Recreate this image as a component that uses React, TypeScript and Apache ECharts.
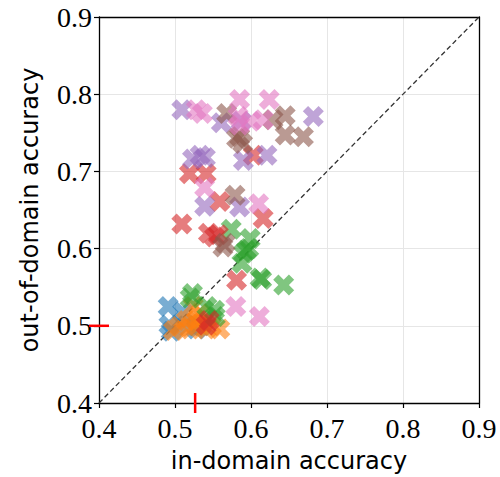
import React, { useEffect, useRef } from "react";
import * as echarts from "echarts";

const tickValues = [0.4, 0.5, 0.6, 0.7, 0.8, 0.9];
const xLabel = "in-domain accuracy";
const yLabel = "out-of-domain accuracy";

const seriesNames = ["blue", "orange", "green", "red", "purple", "brown", "pink"];
const seriesColors = ["#1f77b4", "#ff7f0e", "#2ca02c", "#d62728", "#9467bd", "#8c564b", "#e377c2"];

const blue = [[0.491,0.525],[0.510,0.518],[0.492,0.501],[0.495,0.493],[0.528,0.496],[0.515,0.500],[0.535,0.500]];
const orange = [[0.524,0.525],[0.533,0.516],[0.515,0.507],[0.528,0.507],[0.506,0.499],[0.520,0.496],[0.541,0.496],[0.559,0.496],[0.537,0.505],[0.498,0.494],[0.528,0.500],[0.548,0.500]];
const green = [[0.574,0.625],[0.599,0.613],[0.590,0.594],[0.594,0.598],[0.588,0.581],[0.614,0.560],[0.612,0.562],[0.643,0.553],[0.523,0.542],[0.520,0.536],[0.542,0.525],[0.552,0.520],[0.553,0.512],[0.597,0.600]];
const red = [[0.519,0.697],[0.541,0.697],[0.559,0.661],[0.509,0.632],[0.616,0.639],[0.544,0.620],[0.552,0.615],[0.581,0.559],[0.603,0.721],[0.541,0.501],[0.545,0.507],[0.557,0.618]];
const purple = [[0.509,0.780],[0.561,0.763],[0.682,0.771],[0.523,0.716],[0.533,0.721],[0.540,0.718],[0.590,0.714],[0.621,0.721],[0.539,0.655],[0.585,0.654],[0.587,0.765]];
const brown = [[0.568,0.775],[0.629,0.767],[0.645,0.772],[0.645,0.747],[0.669,0.745],[0.581,0.743],[0.589,0.736],[0.579,0.669],[0.563,0.602],[0.566,0.607],[0.585,0.745]];
const pink = [[0.585,0.793],[0.624,0.793],[0.528,0.780],[0.536,0.775],[0.583,0.771],[0.616,0.767],[0.600,0.765],[0.539,0.679],[0.610,0.658],[0.580,0.525],[0.611,0.512],[0.585,0.760]];

const seriesData = [blue, orange, green, red, purple, brown, pink];

const diagonal = [[0.4, 0.4], [0.9, 0.9]];
const xMarker = [[0.5265, 0.4]];
const yMarker = [[0.4, 0.5]];

const xPath = "path://M1,0 L2,1 L3,0 L4,1 L3,2 L4,3 L3,4 L2,3 L1,4 L0,3 L1,2 L0,1 Z";

export default function App() {
  const ref = useRef<HTMLDivElement>(null);
  useEffect(() => {
    if (!ref.current) return;
    const chart = echarts.init(ref.current, null, { renderer: "svg" });
    const serif = "'Liberation Serif', 'Times New Roman', 'DejaVu Serif', serif";
    const nameFont = { fontFamily: "DejaVu Sans", fontSize: 24, color: "#000" };
    const fmt = (v: number) => v.toFixed(1);
    chart.setOption({
      animation: false,
      backgroundColor: "#fff",
      grid: { left: 99, top: 17, width: 380, height: 386, containLabel: false, outerBoundsMode: "none" },
      xAxis: [
        {
          type: "value", min: 0.4, max: 0.9, interval: 0.1,
          name: xLabel, nameLocation: "middle", nameGap: 46, nameTextStyle: nameFont,
          axisLine: { show: true, onZero: false, lineStyle: { color: "#000", width: 1.3 } },
          axisTick: { show: true, length: 5, lineStyle: { color: "#000", width: 1.2 } },
          axisLabel: { fontFamily: serif, fontSize: 28, color: "#000", margin: 11, formatter: fmt },
          splitLine: { show: true, lineStyle: { color: "#e6e6e6", width: 1 } },
        },
        {
          type: "value", min: 0.4, max: 0.9, interval: 0.1, position: "top",
          axisLine: { show: true, onZero: false, lineStyle: { color: "#000", width: 1.3 } },
          axisTick: { show: false }, axisLabel: { show: false }, splitLine: { show: false },
        },
      ],
      yAxis: [
        {
          type: "value", min: 0.4, max: 0.9, interval: 0.1,
          name: yLabel, nameLocation: "middle", nameGap: 57, nameTextStyle: nameFont,
          axisLine: { show: true, onZero: false, lineStyle: { color: "#000", width: 1.3 } },
          axisTick: { show: true, length: 5, lineStyle: { color: "#000", width: 1.2 } },
          axisLabel: { fontFamily: serif, fontSize: 28, color: "#000", margin: 7, formatter: fmt },
          splitLine: { show: true, lineStyle: { color: "#e6e6e6", width: 1 } },
        },
        {
          type: "value", min: 0.4, max: 0.9, interval: 0.1, position: "right",
          axisLine: { show: true, onZero: false, lineStyle: { color: "#000", width: 1.3 } },
          axisTick: { show: false }, axisLabel: { show: false }, splitLine: { show: false },
        },
      ],
      series: [
        {
          type: "line", data: diagonal, symbol: "none", silent: true, z: 1,
          lineStyle: { color: "#333", width: 1.3, type: [5, 3] },
        },
        ...seriesData.map((d, i) => ({
          type: "scatter", name: seriesNames[i], data: d, symbol: xPath, symbolSize: 21,
          itemStyle: { color: seriesColors[i], opacity: 0.6 }, z: 2 + i,
        })),
        {
          type: "scatter", data: xMarker, symbol: "rect", symbolSize: [2.5, 20], clip: false,
          itemStyle: { color: "#ff0000", opacity: 1 }, z: 20,
        },
        {
          type: "scatter", data: yMarker, symbol: "rect", symbolSize: [20, 2.5], clip: false,
          itemStyle: { color: "#ff0000", opacity: 1 }, z: 20,
        },
      ],
    });
    return () => chart.dispose();
  }, []);
  return (
    <div
      ref={ref}
      style={{ position: "absolute", left: 0, top: 0, width: 500, height: 477 }}
    />
  );
}
